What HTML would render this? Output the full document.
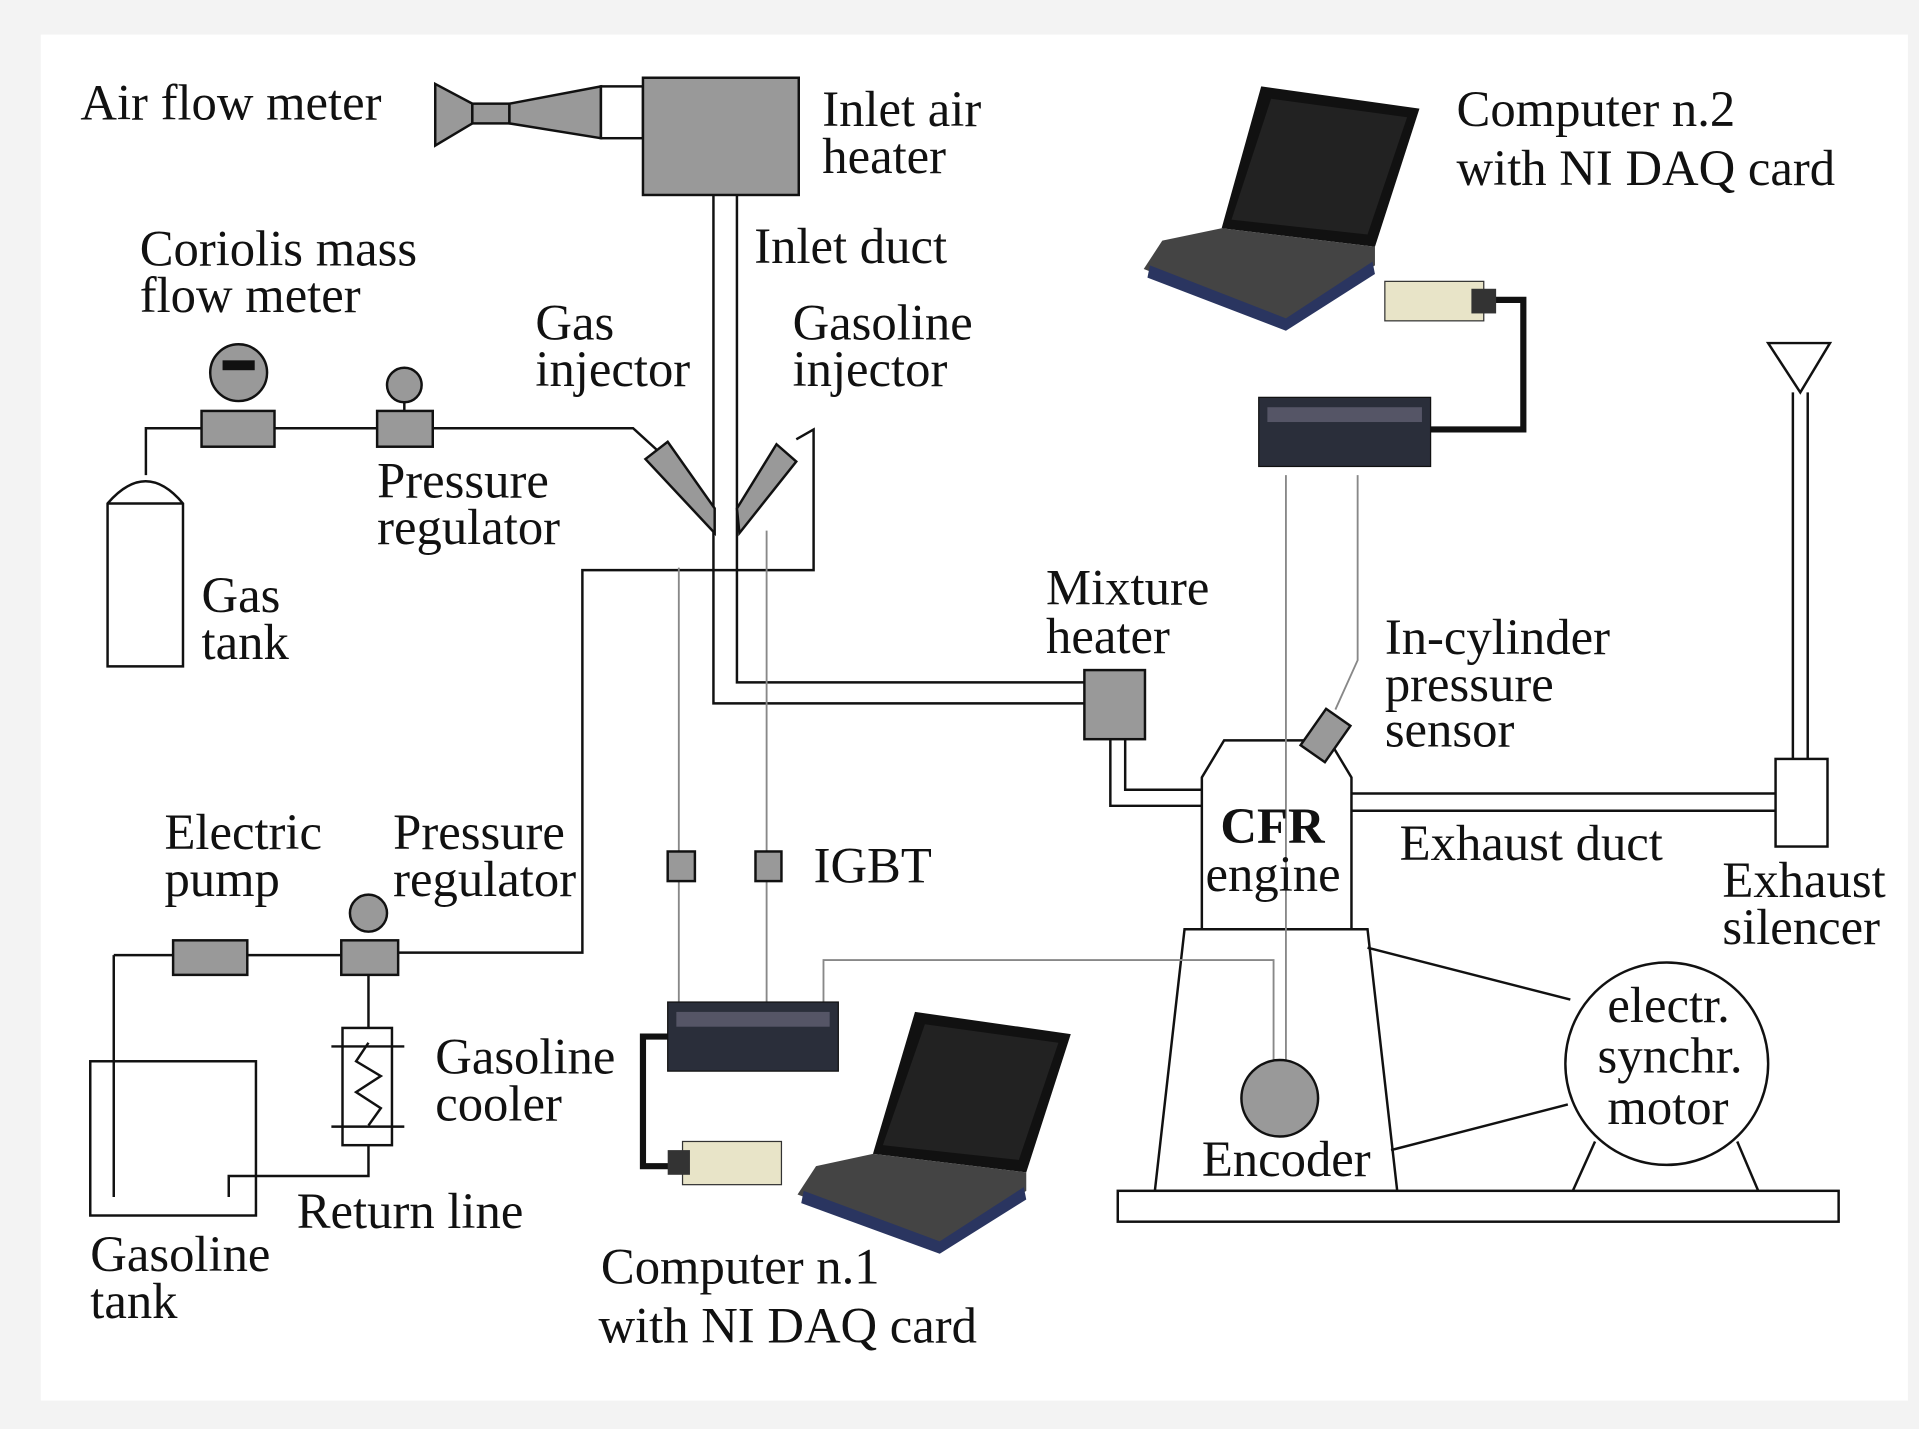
<!DOCTYPE html>
<html><head><meta charset="utf-8"><style>
html,body{margin:0;padding:0;background:#f3f3f3;}
svg{display:block;}
text{font-family:"Liberation Serif",serif;font-size:41px;fill:#111;}
</style></head><body>
<svg width="1919" height="1429" viewBox="0 0 1552 1158" preserveAspectRatio="none" xmlns="http://www.w3.org/2000/svg">
<rect x="0" y="0" width="1552" height="1158" fill="#f3f3f3"/>
<rect x="33" y="28" width="1510" height="1107" fill="#fff"/>
<g stroke="#111" stroke-width="2" fill="none">
<polygon points="352,68 382,84 382,100 352,118" fill="#999"/>
<rect x="382" y="84" width="30" height="16" fill="#999"/>
<polygon points="412,84 486,70 486,112 412,100" fill="#999"/>
<rect x="486" y="70" width="34" height="42" fill="#fff"/>
<rect x="520" y="63" width="126" height="95" fill="#999"/>
<polyline points="577,158 577,570 878,570"/>
<polyline points="596,158 596,553 878,553"/>
<rect x="877" y="543" width="49" height="56" fill="#999"/>
<polyline points="898,599 898,653 972,653"/>
<polyline points="910,599 910,640 972,640"/>
<polygon points="972,630 990,600 1075,600 1093,630 1093,753 972,753" fill="#fff"/>
<polygon points="958,753 1106,753 1130,965 934,965" fill="#fff"/>
<rect x="904" y="965" width="583" height="25" fill="#fff"/>
<line x1="1093" y1="643" x2="1436" y2="643"/>
<line x1="1093" y1="657" x2="1436" y2="657"/>
<rect x="1436" y="615" width="42" height="71" fill="#fff"/>
<line x1="1450" y1="318" x2="1450" y2="615"/>
<line x1="1462" y1="318" x2="1462" y2="615"/>
<polygon points="1430,278 1480,278 1456,318"/>
<circle cx="1348" cy="862" r="82" fill="#fff"/>
<line x1="1106" y1="768" x2="1270" y2="810"/>
<line x1="1125" y1="932" x2="1268" y2="895"/>
<line x1="1290" y1="925" x2="1272" y2="965"/>
<line x1="1405" y1="925" x2="1422" y2="965"/>
<path d="M87,540 V408 Q118,372 148,408 V540 Z" fill="#fff"/>
<line x1="87" y1="408" x2="148" y2="408"/>
<polyline points="118,385 118,347 163,347"/>
<line x1="222" y1="347" x2="305" y2="347"/>
<polyline points="350,347 512,347 535,368"/>
<rect x="163" y="333" width="59" height="29" fill="#999"/>
<circle cx="193" cy="302" r="23" fill="#999"/>
<rect x="305" y="333" width="45" height="29" fill="#999"/>
<circle cx="327" cy="312" r="14" fill="#999"/>
<line x1="327" y1="326" x2="327" y2="333"/>
<polygon points="522,372 540,358 578,412 578,432" fill="#999"/>
<polygon points="628,360 644,374 598,432 596,412" fill="#999"/>
<polyline points="644,356 658,348 658,462 471,462 471,772 322,772"/>
<rect x="140" y="762" width="60" height="28" fill="#999"/>
<rect x="276" y="762" width="46" height="28" fill="#999"/>
<circle cx="298" cy="740" r="15" fill="#999"/>
<line x1="92" y1="774" x2="140" y2="774"/>
<line x1="200" y1="774" x2="276" y2="774"/>
<line x1="92" y1="774" x2="92" y2="970"/>
<rect x="73" y="860" width="134" height="125"/>
<line x1="298" y1="790" x2="298" y2="833"/>
<rect x="277" y="833" width="40" height="95"/>
<polyline points="298,845 288,860 308,872 288,885 308,898 298,912"/>
<line x1="268" y1="848" x2="327" y2="848"/>
<line x1="268" y1="913" x2="327" y2="913"/>
<polyline points="298,928 298,953 185,953 185,970"/>
</g>
<rect x="180" y="292" width="26" height="8" fill="#111"/>
<g stroke="#888" stroke-width="1.5" fill="none">
<line x1="549" y1="460" x2="549" y2="812"/>
<line x1="620" y1="430" x2="620" y2="812"/>
<polyline points="666,812 666,778 1030,778 1030,860"/>
<line x1="1040" y1="385" x2="1040" y2="860"/>
<polyline points="1098,385 1098,535 1080,575"/>
</g>
<rect x="540" y="690" width="22" height="24" fill="#999" stroke="#111" stroke-width="2"/>
<rect x="611" y="690" width="21" height="24" fill="#999" stroke="#111" stroke-width="2"/>
<circle cx="1035" cy="890" r="31" fill="#999" stroke="#111" stroke-width="2"/>
<rect x="1060" y="578" width="24" height="36" fill="#999" stroke="#111" stroke-width="2" transform="rotate(35 1072 596)"/>
<polyline points="1157,348 1232,348 1232,243 1205,243" stroke="#111" stroke-width="5" fill="none"/>
<rect x="1018" y="322" width="139" height="56" fill="#2a2e3a" stroke="#111"/>
<rect x="1025" y="330" width="125" height="12" fill="#556"/>
<rect x="1120" y="228" width="80" height="32" fill="#e8e4c8" stroke="#333"/>
<rect x="1190" y="234" width="20" height="20" fill="#333"/>
<polyline points="540,840 520,840 520,945 545,945" stroke="#111" stroke-width="5" fill="none"/>
<rect x="540" y="812" width="138" height="56" fill="#2a2e3a" stroke="#111"/>
<rect x="547" y="820" width="124" height="12" fill="#556"/>
<rect x="552" y="925" width="80" height="35" fill="#e8e4c8" stroke="#333"/>
<rect x="540" y="932" width="18" height="20" fill="#333"/>
<polygon points="1020,70 1148,88 1112,200 988,185" fill="#111"/>
<polygon points="1028,80 1138,95 1106,190 996,178" fill="#222"/>
<polygon points="988,185 1112,200 1112,215 1040,262 925,218 940,195" fill="#444"/>
<polygon points="930,215 1040,258 1110,212 1112,222 1040,268 928,225" fill="#2a3560"/>
<polygon points="740,820 866,838 830,950 706,935" fill="#111"/>
<polygon points="748,830 856,845 824,940 714,928" fill="#222"/>
<polygon points="706,935 830,950 830,965 760,1010 645,968 660,945" fill="#444"/>
<polygon points="650,965 760,1006 828,962 830,972 760,1016 648,975" fill="#2a3560"/>
<text x="65" y="97">Air flow meter</text>
<text x="665" y="102">Inlet air</text>
<text x="665" y="140">heater</text>
<text x="1178" y="102">Computer n.2</text>
<text x="1178" y="150">with NI DAQ card</text>
<text x="113" y="215">Coriolis mass</text>
<text x="113" y="253">flow meter</text>
<text x="610" y="213">Inlet duct</text>
<text x="433" y="275">Gas</text>
<text x="433" y="313">injector</text>
<text x="641" y="275">Gasoline</text>
<text x="641" y="313">injector</text>
<text x="305" y="403">Pressure</text>
<text x="305" y="441">regulator</text>
<text x="163" y="496">Gas</text>
<text x="163" y="534">tank</text>
<text x="846" y="490">Mixture</text>
<text x="846" y="529">heater</text>
<text x="1120" y="530">In-cylinder</text>
<text x="1120" y="568">pressure</text>
<text x="1120" y="605">sensor</text>
<text x="987" y="683" font-weight="bold">CFR</text>
<text x="975" y="722">engine</text>
<text x="1132" y="697">Exhaust duct</text>
<text x="1393" y="727">Exhaust</text>
<text x="1393" y="765">silencer</text>
<text x="133" y="688">Electric</text>
<text x="133" y="726">pump</text>
<text x="318" y="688">Pressure</text>
<text x="318" y="726">regulator</text>
<text x="658" y="715">IGBT</text>
<text x="1300" y="828">electr.</text>
<text x="1292" y="869">synchr.</text>
<text x="1300" y="911">motor</text>
<text x="352" y="870">Gasoline</text>
<text x="352" y="908">cooler</text>
<text x="972" y="953">Encoder</text>
<text x="240" y="995">Return line</text>
<text x="73" y="1030">Gasoline</text>
<text x="73" y="1068">tank</text>
<text x="486" y="1040">Computer n.1</text>
<text x="484" y="1088">with NI DAQ card</text>
</svg>
</body></html>
